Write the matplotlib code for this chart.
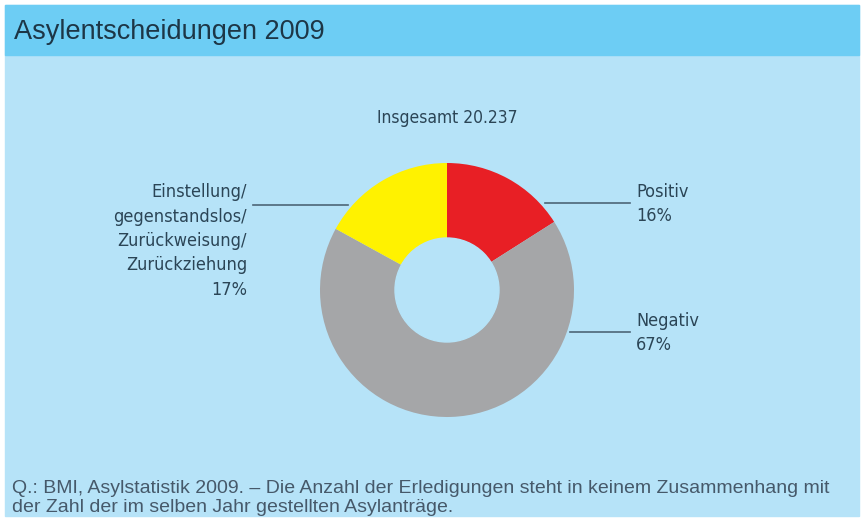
import matplotlib.pyplot as plt
from matplotlib.patches import Rectangle, Circle

# data
labels = ["Positiv", "Negativ", "Einstellung/\ngegenstandslos/\nZurückweisung/\nZurückziehung"]
shares = [16, 67, 17]
colors = ["#e81f25", "#a5a6a8", "#fff200"]
total_text = "Insgesamt 20.237"
title = "Asylentscheidungen 2009"
source = ("Q.: BMI, Asylstatistik 2009. \u2013 Die Anzahl der Erledigungen steht in keinem Zusammenhang mit\n"
          "der Zahl der im selben Jahr gestellten Asylanträge.")

W, H = 863, 519
bg = "#b6e3f8"
head = "#6dcdf4"
txt = "#2b4556"
cond = dict(family=["DejaVu Sans"], stretch="condensed")

fig = plt.figure(figsize=(W / 100, H / 100), dpi=100)
ax = fig.add_axes([0, 0, 1, 1])
ax.set_xlim(0, W)
ax.set_ylim(0, H)
ax.axis("off")

def y(v):
    # image row -> axes y
    return H - v

ax.add_patch(Rectangle((5, y(516)), 854, 511, color=bg, zorder=0))
ax.add_patch(Rectangle((5, y(55)), 854, 50, color=head, zorder=1))
ax.text(14, y(32), title, fontsize=19.5, color="#1d3646", va="center", ha="left",
        family=["Liberation Sans", "DejaVu Sans"])

# donut
cx, cy, r = 447, y(290), 127
ax.pie(shares, colors=colors, startangle=90, counterclock=False,
       center=(cx, cy), radius=r, wedgeprops=dict(width=r - 52, linewidth=0))
ax.add_patch(Circle((cx, cy), 52, color=bg, zorder=3))
ax.set_xlim(0, W)
ax.set_ylim(0, H)
ax.set_aspect("equal")

ax.text(cx, y(118), total_text, fontsize=12.5, color=txt, ha="center", va="center", **cond)

# label lines
lc = "#4d6677"
ax.plot([545, 630], [y(203), y(203)], color=lc, lw=1.2)
ax.plot([570, 630], [y(332), y(332)], color=lc, lw=1.2)
ax.plot([253, 348], [y(205), y(205)], color=lc, lw=1.2)

ax.text(636, y(204), f"{labels[0]}\n{shares[0]}%", fontsize=13, color=txt, ha="left", va="center",
        linespacing=1.4, **cond)
ax.text(636, y(333), f"{labels[1]}\n{shares[1]}%", fontsize=13, color=txt, ha="left", va="center",
        linespacing=1.4, **cond)
ax.text(247, y(241), f"{labels[2]}\n{shares[2]}%", fontsize=13, color=txt, ha="right", va="center",
        linespacing=1.45, **cond)

ax.text(12, y(498), source, fontsize=14, color="#46596a", ha="left", va="center",
        linespacing=1.2, family=["Liberation Sans", "DejaVu Sans"])

fig.savefig("out.png", dpi=100, facecolor="white")
